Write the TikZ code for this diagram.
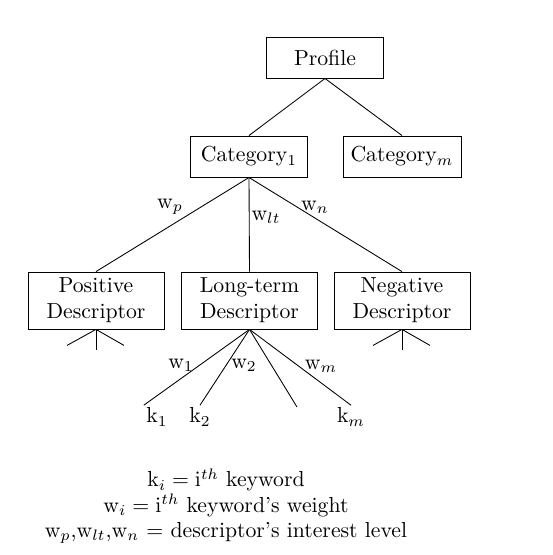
\documentclass[tikz,border=0pt]{standalone}
\usepackage{amsmath}
\usepackage{amssymb}

\tikzset{
  catbox/.style={draw,thin,minimum width=53.5pt,minimum height=18.9pt,inner sep=2pt},
  descbox/.style={draw,thin,align=center,minimum width=62.6pt,minimum height=26.2pt,inner sep=2pt},
  wlabel/.style={inner sep=1pt},
}

\begin{document}
\begin{tikzpicture}[x=0.46pt,y=-0.46pt]
                      \useasboundingbox (0,0) rectangle (553,555);
                      % tree of boxes
                      \node[catbox](profile)at(325,57.5){Profile};
                      \node[catbox](cat1)at(249,156.5){Category$_1$};
                      \node[catbox,minimum width=54.3pt](catm)at(402,156.5){Category$_m$};
                      \node[descbox](pos)at(96,300.5){Positive\\Descriptor};
                      \node[descbox](lt)at(249.5,300.5){Long-term\\Descriptor};
                      \node[descbox](neg)at(402,300.5){Negative\\Descriptor};
                      \draw[thin] (profile.south) -- (cat1.north);
                      \draw[thin] (profile.south) -- (catm.north);
                      \draw[thin] (cat1.south) -- (pos.north);
                      \draw[thin] (cat1.south) -- (lt.north);
                      \draw[thin] (cat1.south) -- (neg.north);
                      \node[wlabel](wp)at(170,207){w$_p$};
                      \node[wlabel](wlt)at(266,217){w$_{lt}$};
                      \node[wlabel](wn)at(315,207){w$_n$};
                      % stubs under the side descriptors
                      \foreach \d in {pos,neg}{
                        \draw[thin] (\d.south) -- ++(-29,16);
                        \draw[thin] (\d.south) -- ++(0,21);
                        \draw[thin] (\d.south) -- ++(28,16);
                      }
                      % keywords
                      \node[wlabel](k1)at(157,417){k$_1$};
                      \node[wlabel](k2)at(200,417){k$_2$};
                      \node[wlabel](km)at(351,417){k$_m$};
                      \coordinate(k3)at(297,407);
                      \draw[thin] (lt.south) -- (k1.north west);
                      \draw[thin] (lt.south) -- (k2.north);
                      \draw[thin] (lt.south) -- (k3);
                      \draw[thin] (lt.south) -- (km.north);
                      \node[wlabel](w1)at(181,365){w$_1$};
                      \node[wlabel](w2)at(244,365){w$_2$};
                      \node[wlabel](wm)at(321,366){w$_m$};
                      % legend
                      \node[align=center](legend)at(226,506){%
                        $\mathrm{k}_i = \mathrm{i}^{th}$ keyword\\[-0.4pt]
                        $\mathrm{w}_i = \mathrm{i}^{th}$ keyword's weight\\[-0.4pt]
                        $\mathrm{w}_p$,$\mathrm{w}_{lt}$,$\mathrm{w}_n$ $=$ descriptor's interest level};
                  \end{tikzpicture}
\end{document}
